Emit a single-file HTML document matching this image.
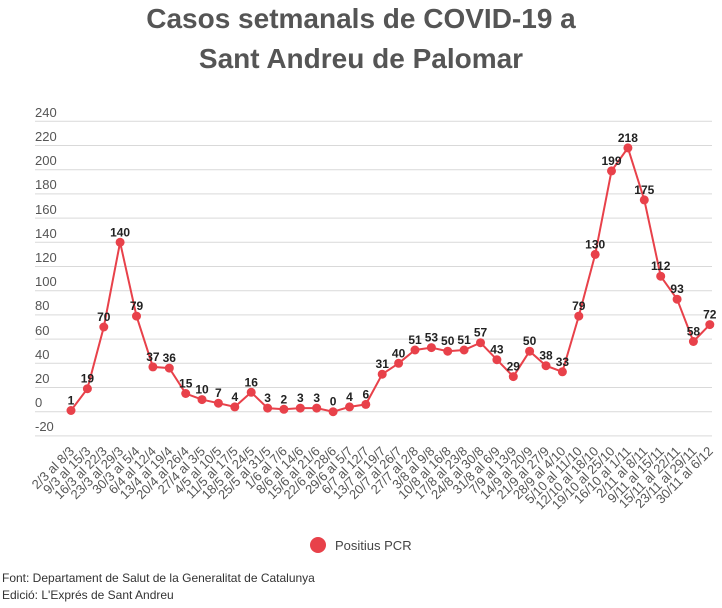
<!DOCTYPE html>
<html><head><meta charset="utf-8"><style>
body{margin:0;background:#fff;width:722px;height:603px;overflow:hidden;font-family:"Liberation Sans",sans-serif}
</style></head><body>
<svg width="722" height="603" xmlns="http://www.w3.org/2000/svg" font-family="Liberation Sans, sans-serif">
<text x="361" y="28" text-anchor="middle" font-size="28" font-weight="bold" fill="#555">Casos setmanals de COVID-19 a</text>
<text x="361" y="68" text-anchor="middle" font-size="28" font-weight="bold" fill="#555">Sant Andreu de Palomar</text>
<g stroke="#d9d9d9" stroke-width="1">
<line x1="35" x2="712" y1="121.3" y2="121.3"/><line x1="35" x2="712" y1="145.5" y2="145.5"/><line x1="35" x2="712" y1="169.7" y2="169.7"/><line x1="35" x2="712" y1="193.9" y2="193.9"/><line x1="35" x2="712" y1="218.1" y2="218.1"/><line x1="35" x2="712" y1="242.3" y2="242.3"/><line x1="35" x2="712" y1="266.5" y2="266.5"/><line x1="35" x2="712" y1="290.7" y2="290.7"/><line x1="35" x2="712" y1="314.9" y2="314.9"/><line x1="35" x2="712" y1="339.1" y2="339.1"/><line x1="35" x2="712" y1="363.3" y2="363.3"/><line x1="35" x2="712" y1="387.5" y2="387.5"/><line x1="35" x2="712" y1="411.7" y2="411.7"/><line x1="35" x2="712" y1="435.9" y2="435.9"/>
</g>
<g font-size="13" fill="#555">
<text x="35" y="117">240</text><text x="35" y="141">220</text><text x="35" y="165">200</text><text x="35" y="189">180</text><text x="35" y="214">160</text><text x="35" y="238">140</text><text x="35" y="262">120</text><text x="35" y="286">100</text><text x="35" y="310">80</text><text x="35" y="335">60</text><text x="35" y="359">40</text><text x="35" y="383">20</text><text x="35" y="407">0</text><text x="35" y="431">-20</text>
</g>
<polyline fill="none" stroke="#e8414a" stroke-width="2" points="71,410.5 87.4,388.7 103.8,327 120.1,242.3 136.5,316.1 152.9,366.9 169.3,368.1 185.7,393.5 202,399.6 218.4,403.2 234.8,406.9 251.2,392.3 267.6,408.1 283.9,409.3 300.3,408.1 316.7,408.1 333.1,411.7 349.5,406.9 365.8,404.4 382.2,374.2 398.6,363.3 415,350 431.4,347.6 447.7,351.2 464.1,350 480.5,342.7 496.9,359.7 513.3,376.6 529.6,351.2 546,365.7 562.4,371.8 578.8,316.1 595.2,254.4 611.5,170.9 627.9,147.9 644.3,199.9 660.7,276.2 677.1,299.2 693.4,341.5 709.8,324.6"/>
<g fill="#e8414a">
<circle cx="71" cy="410.5" r="4.5"/><circle cx="87.4" cy="388.7" r="4.5"/><circle cx="103.8" cy="327" r="4.5"/><circle cx="120.1" cy="242.3" r="4.5"/><circle cx="136.5" cy="316.1" r="4.5"/><circle cx="152.9" cy="366.9" r="4.5"/><circle cx="169.3" cy="368.1" r="4.5"/><circle cx="185.7" cy="393.5" r="4.5"/><circle cx="202" cy="399.6" r="4.5"/><circle cx="218.4" cy="403.2" r="4.5"/><circle cx="234.8" cy="406.9" r="4.5"/><circle cx="251.2" cy="392.3" r="4.5"/><circle cx="267.6" cy="408.1" r="4.5"/><circle cx="283.9" cy="409.3" r="4.5"/><circle cx="300.3" cy="408.1" r="4.5"/><circle cx="316.7" cy="408.1" r="4.5"/><circle cx="333.1" cy="411.7" r="4.5"/><circle cx="349.5" cy="406.9" r="4.5"/><circle cx="365.8" cy="404.4" r="4.5"/><circle cx="382.2" cy="374.2" r="4.5"/><circle cx="398.6" cy="363.3" r="4.5"/><circle cx="415" cy="350" r="4.5"/><circle cx="431.4" cy="347.6" r="4.5"/><circle cx="447.7" cy="351.2" r="4.5"/><circle cx="464.1" cy="350" r="4.5"/><circle cx="480.5" cy="342.7" r="4.5"/><circle cx="496.9" cy="359.7" r="4.5"/><circle cx="513.3" cy="376.6" r="4.5"/><circle cx="529.6" cy="351.2" r="4.5"/><circle cx="546" cy="365.7" r="4.5"/><circle cx="562.4" cy="371.8" r="4.5"/><circle cx="578.8" cy="316.1" r="4.5"/><circle cx="595.2" cy="254.4" r="4.5"/><circle cx="611.5" cy="170.9" r="4.5"/><circle cx="627.9" cy="147.9" r="4.5"/><circle cx="644.3" cy="199.9" r="4.5"/><circle cx="660.7" cy="276.2" r="4.5"/><circle cx="677.1" cy="299.2" r="4.5"/><circle cx="693.4" cy="341.5" r="4.5"/><circle cx="709.8" cy="324.6" r="4.5"/>
</g>
<g font-size="12" font-weight="bold" fill="#222" text-anchor="middle">
<text x="71" y="404.5">1</text><text x="87.4" y="382.7">19</text><text x="103.8" y="321">70</text><text x="120.1" y="236.3">140</text><text x="136.5" y="310.1">79</text><text x="152.9" y="360.9">37</text><text x="169.3" y="362.1">36</text><text x="185.7" y="387.5">15</text><text x="202" y="393.6">10</text><text x="218.4" y="397.2">7</text><text x="234.8" y="400.9">4</text><text x="251.2" y="386.3">16</text><text x="267.6" y="402.1">3</text><text x="283.9" y="403.3">2</text><text x="300.3" y="402.1">3</text><text x="316.7" y="402.1">3</text><text x="333.1" y="405.7">0</text><text x="349.5" y="400.9">4</text><text x="365.8" y="398.4">6</text><text x="382.2" y="368.2">31</text><text x="398.6" y="357.3">40</text><text x="415" y="344">51</text><text x="431.4" y="341.6">53</text><text x="447.7" y="345.2">50</text><text x="464.1" y="344">51</text><text x="480.5" y="336.7">57</text><text x="496.9" y="353.7">43</text><text x="513.3" y="370.6">29</text><text x="529.6" y="345.2">50</text><text x="546" y="359.7">38</text><text x="562.4" y="365.8">33</text><text x="578.8" y="310.1">79</text><text x="595.2" y="248.4">130</text><text x="611.5" y="164.9">199</text><text x="627.9" y="141.9">218</text><text x="644.3" y="193.9">175</text><text x="660.7" y="270.2">112</text><text x="677.1" y="293.2">93</text><text x="693.4" y="335.5">58</text><text x="709.8" y="318.6">72</text>
</g>
<g font-size="13" fill="#555" text-anchor="end">
<text transform="translate(75,452) rotate(-45)">2/3 al 8/3</text>
<text transform="translate(91.4,452) rotate(-45)">9/3 al 15/3</text>
<text transform="translate(107.8,452) rotate(-45)">16/3 al 22/3</text>
<text transform="translate(124.1,452) rotate(-45)">23/3 al 29/3</text>
<text transform="translate(140.5,452) rotate(-45)">30/3 al 5/4</text>
<text transform="translate(156.9,452) rotate(-45)">6/4 al 12/4</text>
<text transform="translate(173.3,452) rotate(-45)">13/4 al 19/4</text>
<text transform="translate(189.7,452) rotate(-45)">20/4 al 26/4</text>
<text transform="translate(206,452) rotate(-45)">27/4 al 3/5</text>
<text transform="translate(222.4,452) rotate(-45)">4/5 al 10/5</text>
<text transform="translate(238.8,452) rotate(-45)">11/5 al 17/5</text>
<text transform="translate(255.2,452) rotate(-45)">18/5 al 24/5</text>
<text transform="translate(271.6,452) rotate(-45)">25/5 al 31/5</text>
<text transform="translate(287.9,452) rotate(-45)">1/6 al 7/6</text>
<text transform="translate(304.3,452) rotate(-45)">8/6 al 14/6</text>
<text transform="translate(320.7,452) rotate(-45)">15/6 al 21/6</text>
<text transform="translate(337.1,452) rotate(-45)">22/6 al 28/6</text>
<text transform="translate(353.5,452) rotate(-45)">29/6 al 5/7</text>
<text transform="translate(369.8,452) rotate(-45)">6/7 al 12/7</text>
<text transform="translate(386.2,452) rotate(-45)">13/7 al 19/7</text>
<text transform="translate(402.6,452) rotate(-45)">20/7 al 26/7</text>
<text transform="translate(419,452) rotate(-45)">27/7 al 2/8</text>
<text transform="translate(435.4,452) rotate(-45)">3/8 al 9/8</text>
<text transform="translate(451.7,452) rotate(-45)">10/8 al 16/8</text>
<text transform="translate(468.1,452) rotate(-45)">17/8 al 23/8</text>
<text transform="translate(484.5,452) rotate(-45)">24/8 al 30/8</text>
<text transform="translate(500.9,452) rotate(-45)">31/8 al 6/9</text>
<text transform="translate(517.3,452) rotate(-45)">7/9 al 13/9</text>
<text transform="translate(533.6,452) rotate(-45)">14/9 al 20/9</text>
<text transform="translate(550,452) rotate(-45)">21/9 al 27/9</text>
<text transform="translate(566.4,452) rotate(-45)">28/9 al 4/10</text>
<text transform="translate(582.8,452) rotate(-45)">5/10 al 11/10</text>
<text transform="translate(599.2,452) rotate(-45)">12/10 al 18/10</text>
<text transform="translate(615.5,452) rotate(-45)">19/10 al 25/10</text>
<text transform="translate(631.9,452) rotate(-45)">16/10 al 1/11</text>
<text transform="translate(648.3,452) rotate(-45)">2/11 al 8/11</text>
<text transform="translate(664.7,452) rotate(-45)">9/11 al 15/11</text>
<text transform="translate(681.1,452) rotate(-45)">15/11 al 22/11</text>
<text transform="translate(697.4,452) rotate(-45)">23/11 al 29/11</text>
<text transform="translate(713.8,452) rotate(-45)">30/11 al 6/12</text>
</g>
<circle cx="318" cy="545" r="8" fill="#e8414a"/>
<text x="335" y="550" font-size="13" fill="#444">Positius PCR</text>
<text x="2" y="582" font-size="12" fill="#333">Font: Departament de Salut de la Generalitat de Catalunya</text>
<text x="2" y="599" font-size="12" fill="#333">Edició: L'Exprés de Sant Andreu</text>
</svg>
</body></html>
